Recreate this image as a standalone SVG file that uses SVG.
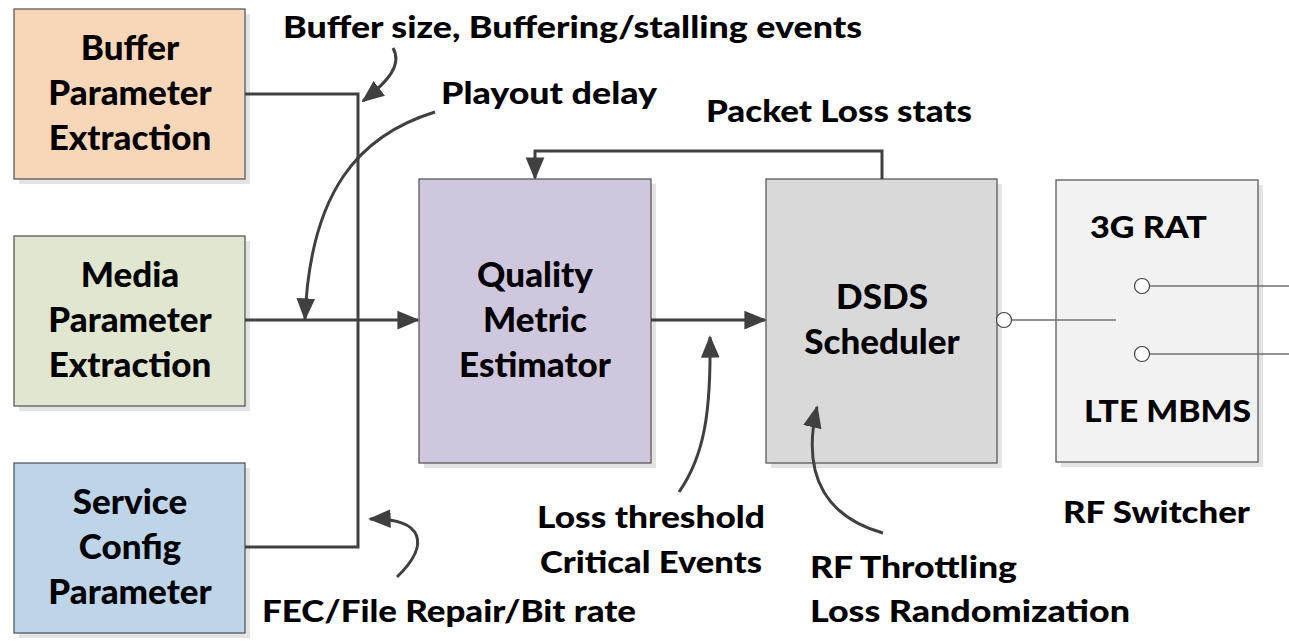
<svg xmlns="http://www.w3.org/2000/svg" width="1289" height="641" viewBox="0 0 1289 641">
<defs>
<marker id="ah" viewBox="0 0 12 10" refX="11" refY="5" markerWidth="7.5" markerHeight="6.5" orient="auto" markerUnits="strokeWidth">
<path d="M0,0 L12,5 L0,10 Z" fill="#404040"/>
</marker>
<style>
.t{font-family:Lato,"Open Sans","Liberation Sans",sans-serif;font-weight:900;font-size:35px;fill:#000;text-anchor:middle}
.tl{font-family:Lato,"Open Sans","Liberation Sans",sans-serif;font-weight:900;font-size:30px;fill:#000}
.box{stroke:#5a5a5a;stroke-width:1.3}
.sh{fill:#e3e3e3}
.c{fill:none;stroke:#404040;stroke-width:3}
.thin{fill:none;stroke:#707070;stroke-width:1.3}
.port{fill:#fff;stroke:#404040;stroke-width:1.2}
</style>
</defs>
<rect width="1289" height="641" fill="#fff"/>

<g id="buffer">
<rect class="sh" x="19" y="14" width="231" height="170"/>
<rect class="box" x="14" y="9" width="231" height="170" fill="#F8D6B9"/>
<text class="t" x="130" y="60">Buffer</text>
<text class="t" x="130" y="105">Parameter</text>
<text class="t" x="130" y="150">Extraction</text>
</g>

<g id="media">
<rect class="sh" x="19" y="241" width="231" height="170"/>
<rect class="box" x="14" y="236" width="231" height="170" fill="#E0E6D0"/>
<text class="t" x="130" y="287">Media</text>
<text class="t" x="130" y="332">Parameter</text>
<text class="t" x="130" y="377">Extraction</text>
</g>

<g id="service">
<rect class="sh" x="19" y="468" width="231" height="170"/>
<rect class="box" x="14" y="463" width="231" height="170" fill="#BED4E8"/>
<text class="t" x="130" y="514">Service</text>
<text class="t" x="130" y="559">Config</text>
<text class="t" x="130" y="604">Parameter</text>
</g>

<g id="quality">
<rect class="sh" x="424" y="184" width="232" height="284"/>
<rect class="box" x="419" y="179" width="232" height="284" fill="#CFC7DD"/>
<text class="t" x="535" y="287">Quality</text>
<text class="t" x="535" y="332">Metric</text>
<text class="t" x="535" y="377">Estimator</text>
</g>

<g id="dsds">
<rect class="sh" x="771" y="184" width="231" height="284"/>
<rect class="box" x="766" y="179" width="231" height="284" fill="#D9D9D9"/>
<text class="t" x="882" y="309">DSDS</text>
<text class="t" x="882" y="354">Scheduler</text>
</g>

<g id="rfswitcher">
<rect class="sh" x="1061" y="185" width="202" height="282"/>
<rect class="box" x="1056" y="180" width="202" height="282" fill="#F2F2F2"/>
<text class="tl" x="1090" y="238" textLength="117" lengthAdjust="spacingAndGlyphs">3G RAT</text>
<text class="tl" x="1084" y="422" textLength="167" lengthAdjust="spacingAndGlyphs">LTE MBMS</text>
<line class="thin" x1="1149" y1="286" x2="1289" y2="286"/>
<line class="thin" x1="1149" y1="354" x2="1289" y2="354"/>
<circle class="port" cx="1142" cy="286" r="7.5"/>
<circle class="port" cx="1142" cy="354" r="7.5"/>
</g>

<g id="connectors">
<polyline class="c" points="245,94 358,94 358,547 245,547"/>
<line class="c" x1="245" y1="320" x2="418" y2="320" marker-end="url(#ah)"/>
<line class="c" x1="651" y1="320" x2="765" y2="320" marker-end="url(#ah)"/>
<polyline class="c" points="882,179 882,151 535,151 535,178" marker-end="url(#ah)"/>
<line class="thin" x1="1011" y1="320" x2="1116" y2="320"/>
<circle class="port" cx="1004" cy="320" r="7.5"/>
<path class="c" d="M393,48 C402,64 390,80 363,101" marker-end="url(#ah)"/>
<path class="c" d="M435,112 C360,135 310,190 305,319" marker-end="url(#ah)"/>
<path class="c" d="M397,577 C430,545 425,518 370,519" marker-end="url(#ah)"/>
<path class="c" d="M679,492 C705,455 711,410 710,337" marker-end="url(#ah)"/>
<path class="c" d="M883,533 C830,518 800,480 817,407" marker-end="url(#ah)"/>
</g>

<g id="labels">
<text class="tl" x="283" y="38" textLength="579" lengthAdjust="spacingAndGlyphs">Buffer size, Buffering/stalling events</text>
<text class="tl" x="441" y="104" textLength="216" lengthAdjust="spacingAndGlyphs">Playout delay</text>
<text class="tl" x="706" y="122" textLength="266" lengthAdjust="spacingAndGlyphs">Packet Loss stats</text>
<text class="tl" x="537" y="528" textLength="228" lengthAdjust="spacingAndGlyphs">Loss threshold</text>
<text class="tl" x="540" y="573" textLength="222" lengthAdjust="spacingAndGlyphs">Critical Events</text>
<text class="tl" x="810" y="578" textLength="207" lengthAdjust="spacingAndGlyphs">RF Throttling</text>
<text class="tl" x="810" y="622" textLength="320" lengthAdjust="spacingAndGlyphs">Loss Randomization</text>
<text class="tl" x="262" y="622" textLength="374" lengthAdjust="spacingAndGlyphs">FEC/File Repair/Bit rate</text>
<text class="tl" x="1063" y="523" textLength="187" lengthAdjust="spacingAndGlyphs">RF Switcher</text>
</g>
</svg>
